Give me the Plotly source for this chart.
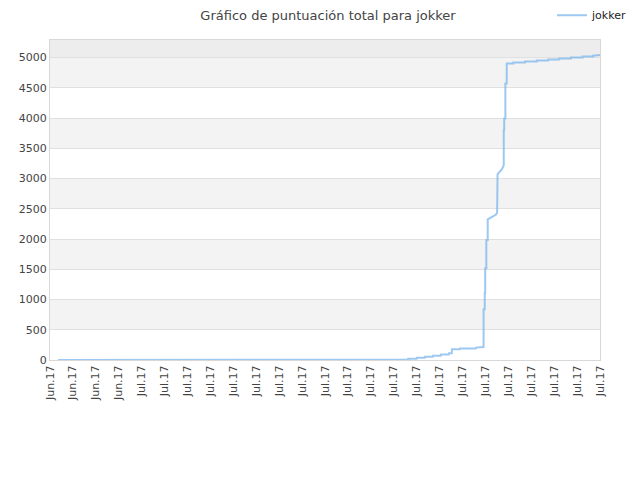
import plotly.graph_objects as go

# tick labels along the x axis (one per tick position)
tick_labels = ["Jun.17"] * 4 + ["Jul.17"] * 21

# score progression (x in tick units, y = total score)
x_pos = [0.35, 15.45, 15.49, 15.62, 15.63, 16.0, 16.01, 16.35, 16.36, 16.7, 16.71,
         17.05, 17.06, 17.4, 17.41, 17.53, 17.54, 17.88, 17.89, 18.58, 18.59, 18.91,
         18.92, 18.92, 18.97, 18.97, 18.99, 18.99, 19.04, 19.04, 19.10, 19.10, 19.45,
         19.51, 19.51, 19.53, 19.73, 19.80, 19.80, 19.82, 19.82, 19.87, 19.87, 19.93,
         19.93, 20.22, 20.22, 20.73, 20.73, 21.24, 21.24, 21.74, 21.74, 22.22, 22.22,
         22.73, 22.73, 23.24, 23.24, 23.7, 23.7, 24.0]
scores = [0, 0, 8, 8, 20, 20, 36, 36, 53, 53, 70,
          70, 92, 92, 110, 110, 177, 177, 190, 190, 205, 205,
          215, 837, 837, 1102, 1102, 1515, 1515, 1982, 1982, 2324, 2400,
          2433, 3001, 3072, 3160, 3221, 3799, 3799, 3992, 3992, 4570, 4570,
          4901, 4901, 4917, 4917, 4934, 4934, 4950, 4950, 4967, 4967, 4983,
          4983, 5000, 5000, 5016, 5016, 5030, 5043]

y_max = 5290
font = "DejaVu Sans, Verdana, sans-serif"

fig = go.Figure()
fig.add_trace(go.Scatter(
    x=x_pos, y=scores, mode="lines", name="jokker",
    line=dict(color="rgba(124,181,236,0.75)", width=2),
))

# alternating background bands
shapes = []
for lo in range(500, 5000, 1000):
    shapes.append(dict(type="rect", xref="paper", yref="y", x0=0, x1=1, y0=lo, y1=lo + 500,
                       fillcolor="#f3f3f3", line_width=0, layer="below"))
shapes.append(dict(type="rect", xref="paper", yref="y", x0=0, x1=1, y0=5000, y1=y_max,
                   fillcolor="#ededed", line_width=0, layer="below"))

fig.update_layout(
    width=640, height=480,
    title=dict(text="Gráfico de puntuación total para jokker", x=0.5, xanchor="center",
               y=0.985, yanchor="middle", font=dict(family=font, size=13, color="#444")),
    font=dict(family=font, size=11, color="#444"),
    paper_bgcolor="white", plot_bgcolor="white",
    margin=dict(l=42, r=48, t=32, b=128),
    shapes=shapes,
    showlegend=True,
    legend=dict(xref="container", yref="container", x=0.975, y=0.985,
                xanchor="right", yanchor="middle", orientation="h",
                font=dict(size=11, color="#222"), bgcolor="rgba(0,0,0,0)", itemwidth=30),
    xaxis=dict(range=[0, 24], tickmode="array", tickvals=list(range(len(tick_labels))),
               ticktext=tick_labels, tickangle=-90, showgrid=False, zeroline=False,
               showline=True, linecolor="#d8d8d8", mirror=True, ticks="", automargin=False),
    yaxis=dict(range=[0, y_max], tickvals=list(range(0, 5001, 500)), showgrid=True,
               gridcolor="#e0e0e0", zeroline=False, showline=True, linecolor="#d8d8d8",
               mirror=True, ticks="", tickformat="d", automargin=False),
)

fig.write_html("out.html")
